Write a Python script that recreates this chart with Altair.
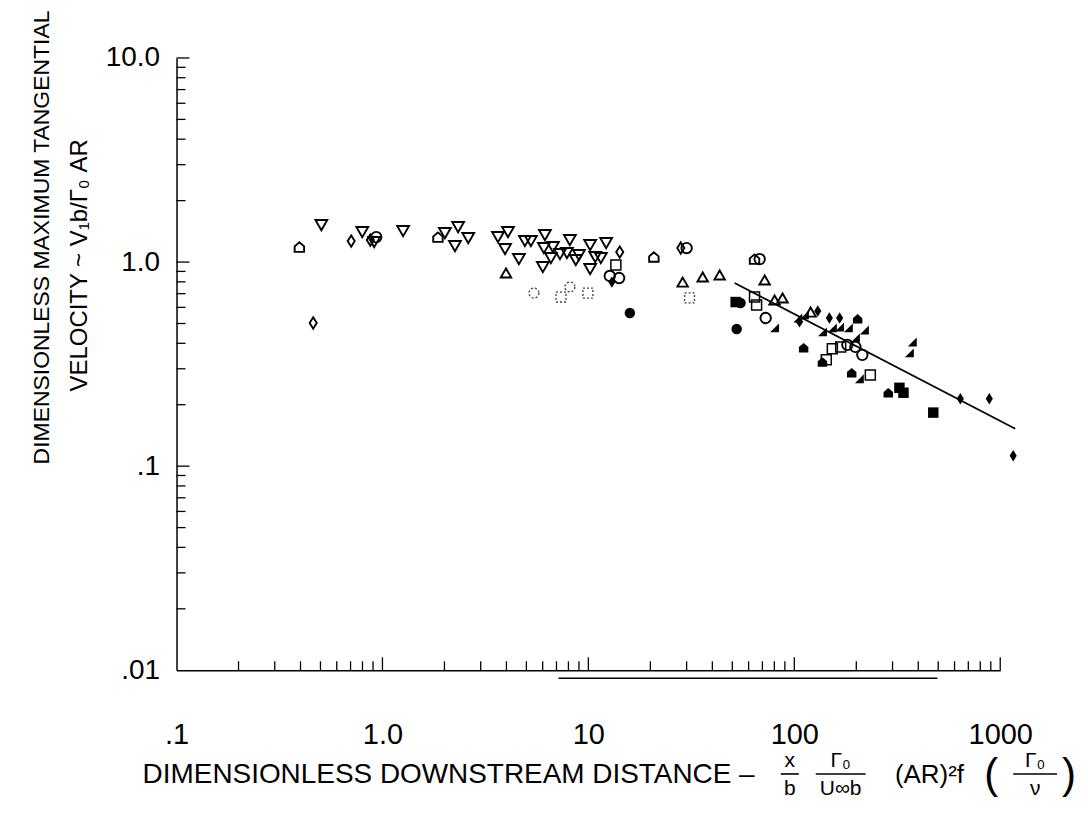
import altair as alt
import pandas as pd

# ---------------- data ----------------
# open downward triangles
tri_down_x = [0.505, 0.798, 0.912, 1.26, 2.01, 2.33, 2.25, 2.61, 3.64, 4.07, 3.94, 4.92, 5.26, 4.60,
              6.15, 6.08, 6.73, 6.58, 6.01, 7.28, 7.87, 8.13, 9.00, 10.2, 10.8, 11.5, 12.2, 10.2, 8.69]
tri_down_y = [1.517, 1.402, 1.253, 1.418, 1.386, 1.483, 1.197, 1.31, 1.325, 1.402, 1.158, 1.267, 1.267, 1.034,
              1.355, 1.171, 1.184, 1.046, 0.945, 1.094, 1.107, 1.281, 1.082, 1.211, 1.058, 1.046, 1.239, 0.924, 1.023]
# open diamonds
dia_open_x = [0.461, 0.705, 0.873, 14.2, 28.1]
dia_open_y = [0.503, 1.267, 1.281, 1.119, 1.171]
# open circles
circ_open_x = [0.933, 12.7, 14.1, 30.0, 67.9, 72.6, 181, 198, 214]
circ_open_y = [1.325, 0.855, 0.835, 1.171, 1.034, 0.532, 0.393, 0.384, 0.351]
# faint (broken) open circles and squares
circ_faint_x = [5.44, 8.13]
circ_faint_y = [0.705, 0.755]
sq_faint_x = [7.36, 9.95, 31.0]
sq_faint_y = [0.674, 0.705, 0.667]
# open squares
sq_open_x = [13.6, 64.1, 65.6, 153, 168, 143, 234]
sq_open_y = [0.967, 0.674, 0.616, 0.376, 0.384, 0.332, 0.280]
# open upward triangles
tri_up_x = [3.98, 28.7, 35.9, 43.4, 71.8, 80.2, 87.7, 120]
tri_up_y = [0.884, 0.798, 0.845, 0.864, 0.817, 0.652, 0.667, 0.569]
# open "house" pentagons
house_open_x = [0.395, 1.86, 20.8, 64.1]
house_open_y = [1.184, 1.325, 1.058, 1.034]
# filled circles
circ_fill_x = [15.9, 52.5, 54.8]
circ_fill_y = [0.563, 0.470, 0.630]
# filled squares
sq_fill_x = [51.9, 324, 339, 473]
sq_fill_y = [0.637, 0.242, 0.229, 0.183]
# filled diamonds
dia_fill_x = [13.0, 106, 130, 148, 166, 640, 885, 1156]
dia_fill_y = [0.798, 0.509, 0.576, 0.532, 0.532, 0.214, 0.214, 0.1125]
# filled right triangles
tri_fill_x = [80.2, 104, 112, 137, 153, 166, 183, 219, 198, 374, 362, 207]
tri_fill_y = [0.476, 0.532, 0.551, 0.455, 0.476, 0.481, 0.476, 0.465, 0.425, 0.406, 0.359, 0.268]
# filled "house" pentagons
house_fill_x = [111, 137, 190, 286, 203]
house_fill_y = [0.380, 0.324, 0.287, 0.229, 0.527]
# fitted line
fit_x = [51.3, 1183]
fit_y = [0.789, 0.1526]

# axis ticks
x_major = [1, 10, 100, 1000]
x_minor = [0.2, 0.3, 0.4, 0.5, 0.6, 0.7, 0.8, 0.9, 2, 3, 4, 5, 6, 7, 8, 9,
           20, 30, 40, 50, 60, 70, 80, 90, 200, 300, 400, 500, 600, 700, 800, 900]
y_major = [0.1, 1, 10]
y_minor = [0.02, 0.03, 0.04, 0.05, 0.06, 0.07, 0.08, 0.09, 0.2, 0.3, 0.4, 0.5, 0.6, 0.7, 0.8, 0.9,
           2, 3, 4, 5, 6, 7, 8, 9]
x_label_values = [0.1, 1, 10, 100, 1000]
y_label_values = [0.01, 0.1, 1, 10]

y_title_1 = "DIMENSIONLESS MAXIMUM TANGENTIAL"
y_title_2 = "VELOCITY ~ V\u2081b/\u0393\u2080 AR"
x_title = "DIMENSIONLESS DOWNSTREAM DISTANCE \u2013"

# ---------------- chart ----------------
W, H = 826, 614
FONT = "Liberation Sans, Arial, Helvetica, sans-serif"
xs = alt.Scale(type="log", domain=[0.1, 1000])
ys = alt.Scale(type="log", domain=[0.01, 10])

HOUSE = "M-1,1L-1,-0.15L0,-1L1,-0.15L1,1Z"
RTRI = "M1,-1L1,1L-1,1Z"
DIA = "M0,-1.2L0.75,0L0,1.2L-0.75,0Z"

x_axis = alt.Axis(values=x_label_values,
                  labelExpr="datum.value == 1 ? '1.0' : datum.value < 0.5 ? '.1' : format(datum.value, 'd')",
                  ticks=False, grid=False, domainColor="black", domainWidth=1.5, title=None,
                  labelFont=FONT, labelFontSize=29, labelColor="black", labelPadding=50,
                  labelFlush=False, labelOverlap=False)
y_axis = alt.Axis(values=y_label_values,
                  labelExpr="datum.value == 10 ? '10.0' : datum.value == 1 ? '1.0' : datum.value == 0.1 ? '.1' : '.01'",
                  ticks=False, grid=False, domainColor="black", domainWidth=1.5, title=None,
                  labelFont=FONT, labelFontSize=28, labelColor="black", labelPadding=17,
                  labelFlush=False, labelOverlap=False)

X = lambda f: alt.X(f, scale=xs, axis=x_axis)
Y = lambda f: alt.Y(f, scale=ys, axis=y_axis)


def pts(xv, yv, shape, filled, size, sw=1.9, dash=None, opacity=1.0):
    df = pd.DataFrame({"x": xv, "y": yv})
    kw = dict(shape=shape, filled=filled, size=size, color="black", opacity=opacity)
    if not filled:
        kw["strokeWidth"] = sw
    if dash:
        kw["strokeDash"] = dash
    return alt.Chart(df).mark_point(**kw).encode(x=X("x:Q"), y=Y("y:Q"))


xt_major = alt.Chart(pd.DataFrame({"v": x_major})).mark_rule(color="black", strokeWidth=1.3).encode(
    x=X("v:Q"), y=alt.value(H), y2=alt.value(H - 13))
xt_minor = alt.Chart(pd.DataFrame({"v": x_minor})).mark_rule(color="black", strokeWidth=1.3).encode(
    x=X("v:Q"), y=alt.value(H), y2=alt.value(H - 9))
yt_major = alt.Chart(pd.DataFrame({"v": y_major})).mark_rule(color="black", strokeWidth=1.3).encode(
    y=Y("v:Q"), x=alt.value(0), x2=alt.value(13))
yt_minor = alt.Chart(pd.DataFrame({"v": y_minor})).mark_rule(color="black", strokeWidth=1.3).encode(
    y=Y("v:Q"), x=alt.value(0), x2=alt.value(9))

fit = alt.Chart(pd.DataFrame({"x": fit_x, "y": fit_y})).mark_line(color="black", strokeWidth=1.8).encode(
    x=X("x:Q"), y=Y("y:Q"))

# extra baseline segment under the x ticks, as in the pasted-up original
base2 = alt.Chart(pd.DataFrame({"k": [0]})).mark_rule(color="black", strokeWidth=1.3).encode(
    x=alt.value(383), x2=alt.value(763), y=alt.value(H + 8))

layers = [
    xt_major, xt_minor, yt_major, yt_minor, base2, fit,
    pts(tri_down_x, tri_down_y, "triangle-down", False, 140),
    pts(dia_open_x, dia_open_y, DIA, False, 90),
    pts(circ_open_x, circ_open_y, "circle", False, 110),
    pts(circ_faint_x, circ_faint_y, "circle", False, 100, sw=1.3, dash=[2, 2], opacity=0.75),
    pts(sq_faint_x, sq_faint_y, "square", False, 100, sw=1.3, dash=[2, 2], opacity=0.75),
    pts(sq_open_x, sq_open_y, "square", False, 100, sw=1.5),
    pts(tri_up_x, tri_up_y, "triangle-up", False, 110),
    pts(house_open_x, house_open_y, HOUSE, False, 90),
    pts(circ_fill_x, circ_fill_y, "circle", True, 110),
    pts(sq_fill_x, sq_fill_y, "square", True, 110),
    pts(dia_fill_x, dia_fill_y, DIA, True, 90),
    pts(tri_fill_x, tri_fill_y, RTRI, True, 80),
    pts(house_fill_x, house_fill_y, HOUSE, True, 90),
]


def txt(s, x, y, size=27, angle=0, align="center"):
    kw = dict(font=FONT, fontSize=size, align=align, baseline="middle", color="black")
    if angle:
        kw["angle"] = angle
    return alt.Chart(pd.DataFrame({"t": [s]})).mark_text(**kw).encode(
        text="t:N", x=alt.value(x), y=alt.value(y))


def bar(x1, x2, y):
    return alt.Chart(pd.DataFrame({"k": [0]})).mark_rule(color="black", strokeWidth=1.6).encode(
        x=alt.value(x1), x2=alt.value(x2), y=alt.value(y))


ox, oy = 177, 57  # plot origin in page pixels, used only for the annotation text
texts = [
    txt(y_title_1, 42 - ox, 237 - oy, size=23, angle=270),
    txt(y_title_2, 80 - ox, 265 - oy, size=24, angle=270),
    txt(x_title, 143 - ox, 776 - oy, size=28, align="left"),
    txt("x", 792 - ox, 762 - oy, size=21), bar(783 - ox, 801 - ox, 775 - oy), txt("b", 792 - ox, 790 - oy, size=21),
    txt("\u0393\u2080", 843 - ox, 762 - oy, size=21), bar(818 - ox, 868 - ox, 775 - oy),
    txt("U\u221eb", 843 - ox, 790 - oy, size=21),
    txt("(AR)\u00b2f", 932 - ox, 776 - oy, size=26),
    txt("(", 994 - ox, 776 - oy, size=42),
    txt("\u0393\u2080", 1038 - ox, 762 - oy, size=21), bar(1016 - ox, 1060 - ox, 775 - oy),
    txt("\u03bd", 1038 - ox, 790 - oy, size=21),
    txt(")", 1072 - ox, 776 - oy, size=42),
]

chart = alt.layer(*layers, *texts).properties(
    width=W, height=H,
    autosize=alt.AutoSizeParams(type="none"),
    padding={"left": 169, "top": 49, "right": 80, "bottom": 130},
    background="white",
).configure_view(stroke=None)

chart.save("out.html", embed_options={"renderer": "svg", "actions": False})
